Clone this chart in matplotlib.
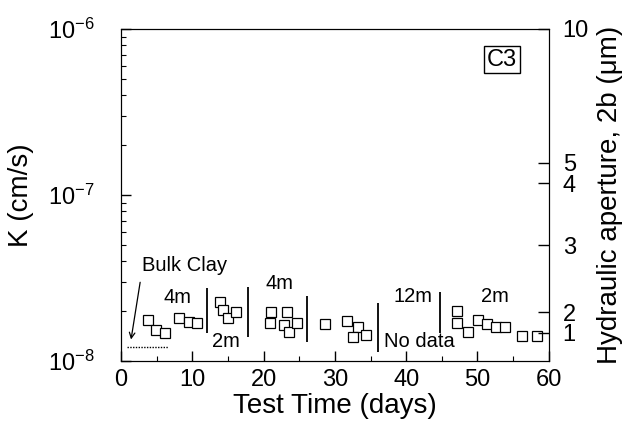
import matplotlib
matplotlib.use("Agg")
import matplotlib.pyplot as plt
from matplotlib.ticker import MultipleLocator, LogLocator, NullFormatter, NullLocator

plt.rcParams["font.family"] = ["Liberation Sans", "DejaVu Sans"]
plt.rcParams["mathtext.fontset"] = "custom"
plt.rcParams["mathtext.rm"] = "Liberation Sans"
plt.rcParams["mathtext.it"] = "Liberation Sans"

# test time (days) and hydraulic conductivity (cm/s)
days = [3.8, 4.9, 6.2, 8.2, 9.5, 10.6,
        13.9, 14.3, 15.0, 16.1,
        21.1, 20.9, 23.3, 22.8, 23.6, 24.7,
        28.6, 31.7, 33.3, 32.5, 34.4,
        47.1, 47.1, 48.7, 50.1, 51.4, 52.6, 53.8, 56.3, 58.4]
K = [1.78e-8, 1.54e-8, 1.47e-8, 1.81e-8, 1.73e-8, 1.69e-8,
     2.26e-8, 2.03e-8, 1.81e-8, 1.98e-8,
     1.98e-8, 1.70e-8, 1.98e-8, 1.65e-8, 1.50e-8, 1.70e-8,
     1.67e-8, 1.75e-8, 1.60e-8, 1.40e-8, 1.43e-8,
     2.01e-8, 1.70e-8, 1.50e-8, 1.78e-8, 1.67e-8, 1.61e-8, 1.61e-8, 1.42e-8, 1.42e-8]

# separators between head stages: x, K bottom, K top
sep_x = [12.1, 17.8, 26.1, 36.1, 44.7]
sep_lo = [1.48e-8, 1.40e-8, 1.31e-8, 1.14e-8, 1.47e-8]
sep_hi = [2.75e-8, 2.80e-8, 2.47e-8, 2.23e-8, 2.61e-8]

stage_labels = ["4m", "2m", "4m", "12m", "2m"]
stage_x = [7.9, 14.7, 22.3, 41.0, 52.4]
stage_K = [2.4e-8, 1.32e-8, 2.94e-8, 2.44e-8, 2.44e-8]

bulk_clay_K = 1.22e-8

# right axis: aperture labels and the K they line up with
aperture_ticks = [1, 2, 3, 4, 5, 10]
aperture_K = [1.48e-8, 1.97e-8, 5.0e-8, 1.18e-7, 1.56e-7, 1e-6]

fig = plt.figure(figsize=(6.33, 4.32), dpi=100)
ax = fig.add_axes([0.191, 0.164, 0.676, 0.769])

ax.plot(days, K, "s", ms=6.5, mfc="white", mec="black", mew=0.9, ls="none")
ax.vlines(sep_x, sep_lo, sep_hi, colors="black", lw=1.3)
for lab, x, y in zip(stage_labels, stage_x, stage_K):
    ax.text(x, y, lab, ha="center", va="center", fontsize=14.5)
ax.text(36.9, 1.31e-8, "No data", ha="left", va="center", fontsize=14.5)

ax.plot([0.8, 6.6], [bulk_clay_K, bulk_clay_K], color="black", lw=1, ls=(0, (1, 1)))
ax.text(2.9, 3.79e-8, "Bulk Clay", ha="left", va="center", fontsize=14.5)
ax.annotate("", xy=(1.36, 1.3e-8), xytext=(2.76, 3.1e-8),
            arrowprops=dict(arrowstyle="->", color="black", lw=0.9))

ax.text(0.89, 0.908, "C3", transform=ax.transAxes, ha="center", va="center",
        fontsize=17, bbox=dict(boxstyle="square,pad=0.12", fc="white", ec="black", lw=1))

ax.set_yscale("log")
ax.set_xlim(0, 60)
ax.set_ylim(1e-8, 1e-6)
ax.xaxis.set_major_locator(MultipleLocator(10))
ax.xaxis.set_minor_locator(MultipleLocator(5))
ax.yaxis.set_major_locator(LogLocator(base=10))
ax.yaxis.set_minor_locator(LogLocator(base=10, subs=range(2, 10)))
ax.yaxis.set_minor_formatter(NullFormatter())
ax.tick_params(which="both", direction="in", top=False, right=False, labelsize=17)
ax.tick_params(which="major", length=7, width=1)
ax.tick_params(which="minor", length=3.5, width=0.8)
ax.tick_params(axis="x", pad=6)
ax.tick_params(axis="y", pad=19)
ax.set_xlabel("Test Time (days)", fontsize=20, labelpad=1)
ax.set_ylabel("K (cm/s)", fontsize=20, labelpad=10)

ax2 = ax.twinx()
ax2.set_yscale("log")
ax2.set_ylim(1e-8, 1e-6)
ax2.set_yticks(aperture_K)
ax2.set_yticklabels([str(t) for t in aperture_ticks])
ax2.yaxis.set_minor_locator(NullLocator())
ax2.tick_params(direction="in", length=8, width=1, labelsize=17, pad=10)
ax2.set_ylabel("Hydraulic aperture, 2b (\u03bcm)", fontsize=20, labelpad=6)

fig.savefig("out.png", dpi=100)
